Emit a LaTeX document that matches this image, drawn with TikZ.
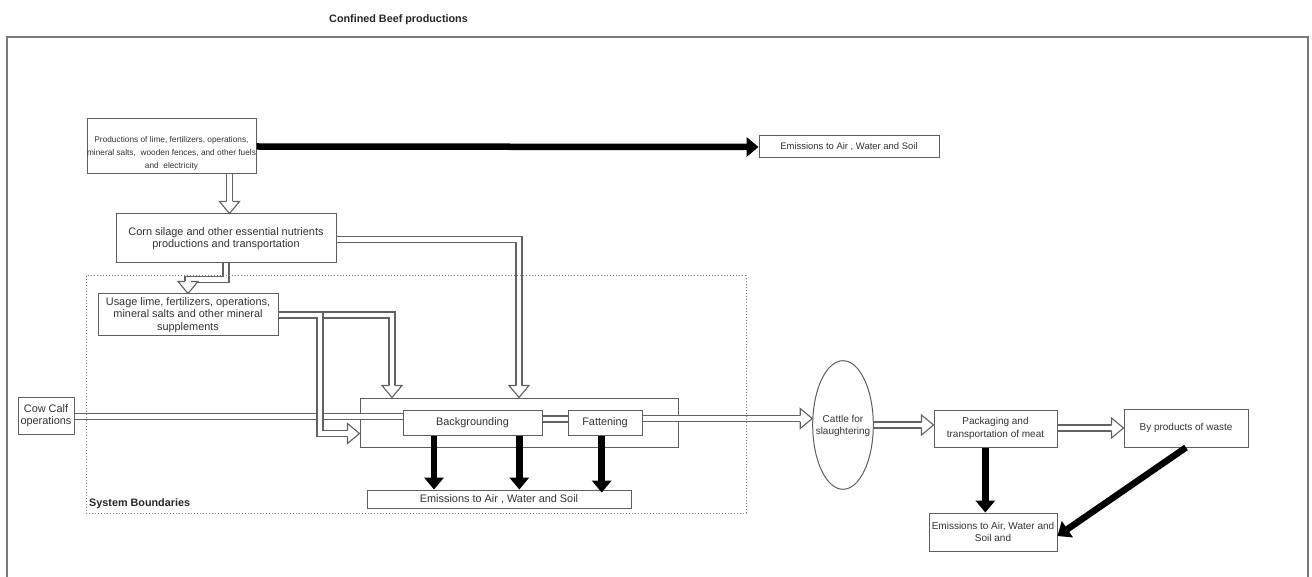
\documentclass[tikz,border=0pt]{standalone}
\usepackage{fontspec}
\setmainfont{Liberation Sans}
\usetikzlibrary{calc,shapes.geometric}
\definecolor{bord}{HTML}{5E5E5E}
\definecolor{txt}{HTML}{333333}
\definecolor{flexc}{HTML}{626262}
\definecolor{framec}{HTML}{7A7A7A}
\definecolor{dotc}{HTML}{7A7A7A}
\newcommand\fs[2]{\fontsize{#1}{#2}\selectfont}
\tikzset{
  box/.style={draw=bord, line width=1pt, fill=white, inner sep=0pt, align=center, text=txt, font=\fs{10.9}{12.5}},
  small/.style={font=\fs{10}{12.5}},
  txtnode/.style={inner sep=0pt, align=center, text=txt},
  flex/.style={draw=flexc, line width=1.1pt, double=white, double distance=4.9pt, line join=miter, line cap=butt},
  flexhd/.style={draw=flexc, line width=1.1pt, fill=white, line join=miter},
  heavy/.style={line width=6.5pt, black, line cap=butt},
}
% hollow (draw.io flexArrow) arrow: #1 path up to last corner, #2 last corner, #3 tip
\newcommand\flexarrow[3]{%
  \coordinate (hb) at ($(#3)!12pt!(#2)$);
  \draw[flex] #1 -- (hb);
  \filldraw[flexhd] ($(hb)!3pt!90:(#3)$) -- ($(hb)!10pt!90:(#3)$) -- (#3) -- ($(hb)!10pt!-90:(#3)$) -- ($(hb)!3pt!-90:(#3)$);}
% heavy black arrow: #1 start, #2 tip
\newcommand\heavyarrow[2]{%
  \coordinate (hb) at ($(#2)!12pt!(#1)$);
  \draw[heavy] (#1) -- ($(#2)!11pt!(#1)$);
  \fill[black] (#2) -- ($(hb)!10pt!90:(#2)$) -- ($(hb)!10pt!-90:(#2)$) -- cycle;}
\begin{document}
\begin{tikzpicture}[x=1pt,y=-1pt]
\useasboundingbox (0,0) rectangle (1312,577);
\fill[white] (0,0) rectangle (1312,577);
% frame
\draw[framec, line width=1.2pt] (7,577) -- (7,37) -- (1308,37) -- (1308,577);
\node[anchor=base, inner sep=0pt, font=\bfseries\fs{10.8}{13}, text=black!85] (title) at (398.5,23) {Confined Beef productions};

% container
\node[box, minimum width=318pt, minimum height=49pt] (cont) at (519,422.5) {};

% nodes
\node[box, minimum width=169pt, minimum height=55pt] (prod) at (171.5,146.5) {};
\node[txtnode, font=\fs{8.3}{13}] (prodtxt) at (171.5,153) {Productions of lime, fertilizers, operations,\\mineral salts,\ \ wooden fences, and other fuels\\and\ \ electricity};
\node[box, font=\fs{9.45}{12}, minimum width=180pt, minimum height=22pt] (emtop) at (849,147) {Emissions to Air , Water and Soil};
\node[box, minimum width=220pt, minimum height=49pt] (corn) at (226,238.5) {Corn silage and other essential nutrients\\productions and transportation};
\node[box, minimum width=180pt, minimum height=42pt] (usage) at (188,315) {Usage lime, fertilizers, operations,\\mineral salts and other mineral\\supplements};
\node[box, minimum width=56pt, minimum height=37pt] (cow) at (46,415.5) {Cow Calf\\operations};
\node[box, minimum width=139pt, minimum height=25pt] (back) at (472.5,422.5) {Backgrounding};
\node[box, minimum width=74pt, minimum height=25pt] (fat) at (605,422.5) {Fattening};
\node[box, minimum width=264pt, minimum height=18pt] (embot) at (499,499) {Emissions to Air , Water and Soil};
\node[draw=bord, line width=1pt, ellipse, fill=white, inner sep=0pt, minimum width=60.6pt, minimum height=128.6pt] (cattle) at (843,425) {};
\node[txtnode, small] (cattletxt) at (843,426) {Cattle for\\slaughtering};
\node[box, small, minimum width=123pt, minimum height=37pt] (pack) at (995.5,428.5) {Packaging and\\transportation of meat};
\node[box, small, minimum width=124pt, minimum height=38pt] (byp) at (1186,428) {By products of waste};
\node[box, small, minimum width=128pt, minimum height=38pt] (emr) at (993,532) {Emissions to Air, Water and\\Soil and};

% hollow arrows
\coordinate (pc1) at ([xshift=58pt]prod.south);
\coordinate (pc2) at (pc1 |- corn.north);
\flexarrow{(pc1)}{pc1}{pc2}

\coordinate (cu1) at (corn.south);
\coordinate (cu2) at ([yshift=-16pt]corn.south);
\coordinate (cu3) at (cu2 -| usage.north);
\flexarrow{(cu1) -- (cu2) -- (cu3)}{cu3}{usage.north}

\coordinate (cc1) at ([yshift=-0.8pt]corn.east);
\coordinate (cc2) at (cc1 -| cont.north);
\flexarrow{(cc1) -- (cc2)}{cc2}{cont.north}

\coordinate (ut1) at ([xshift=113.5pt]usage.east);
\coordinate (ut2) at (ut1 |- cont.north);
\flexarrow{(usage.east) -- (ut1)}{ut1}{ut2}

\coordinate (cb1) at ([yshift=-1pt]cow.east);
\coordinate (cb2) at (cb1 -| back.west);
\draw[flex] (cb1) -- (cb2);

\coordinate (ul1) at ([xshift=41.5pt]usage.east);
\coordinate (ul3) at ([yshift=-11pt]cont.west);
\coordinate (ul2) at (ul1 |- ul3);
\flexarrow{(usage.east) -- (ul1) -- (ul2)}{ul2}{ul3}

\coordinate (bf1) at ([yshift=3.5pt]back.east);
\coordinate (bf2) at (bf1 -| fat.west);
\draw[flex] (bf1) -- (bf2);

\coordinate (fc1) at ([yshift=4pt]fat.east);
\coordinate (fc2) at (fc1 -| cattle.west);
\flexarrow{(fc1)}{fc1}{fc2}

\coordinate (cp2) at (cattle.east -| pack.west);
\flexarrow{(cattle.east)}{cattle.east}{cp2}

\coordinate (pb1) at ([yshift=0.5pt]pack.east);
\coordinate (pb2) at (pb1 -| byp.west);
\flexarrow{(pb1)}{pb1}{pb2}

% heavy arrows
\heavyarrow{prod.east}{emtop.west}
\coordinate (h1s) at ([xshift=-38.5pt]back.south);
\coordinate (h1t) at (h1s |- embot.north);
\heavyarrow{h1s}{h1t}
\coordinate (h2s) at ([xshift=46.8pt]back.south);
\coordinate (h2t) at (h2s |- embot.north);
\heavyarrow{h2s}{h2t}
\coordinate (h3s) at ([xshift=-3.3pt]fat.south);
\path (h3s |- embot.north) ++(0,3) coordinate (h3t);
\heavyarrow{h3s}{h3t}
\coordinate (h4s) at ([xshift=-10.2pt]pack.south);
\coordinate (h4t) at (h4s |- emr.north);
\heavyarrow{h4s}{h4t}
\coordinate (h5t) at ([yshift=-4pt]emr.east);
\heavyarrow{byp.south}{h5t}

% system boundary
\draw[dotc, line width=1pt, dash pattern=on 1pt off 2pt] (86,276) rectangle (746,513);
\node[anchor=base west, inner sep=0pt, font=\bfseries\fs{10.8}{13}, text=black!85] (sysb) at (89,506) {System Boundaries};
\end{tikzpicture}
\end{document}
